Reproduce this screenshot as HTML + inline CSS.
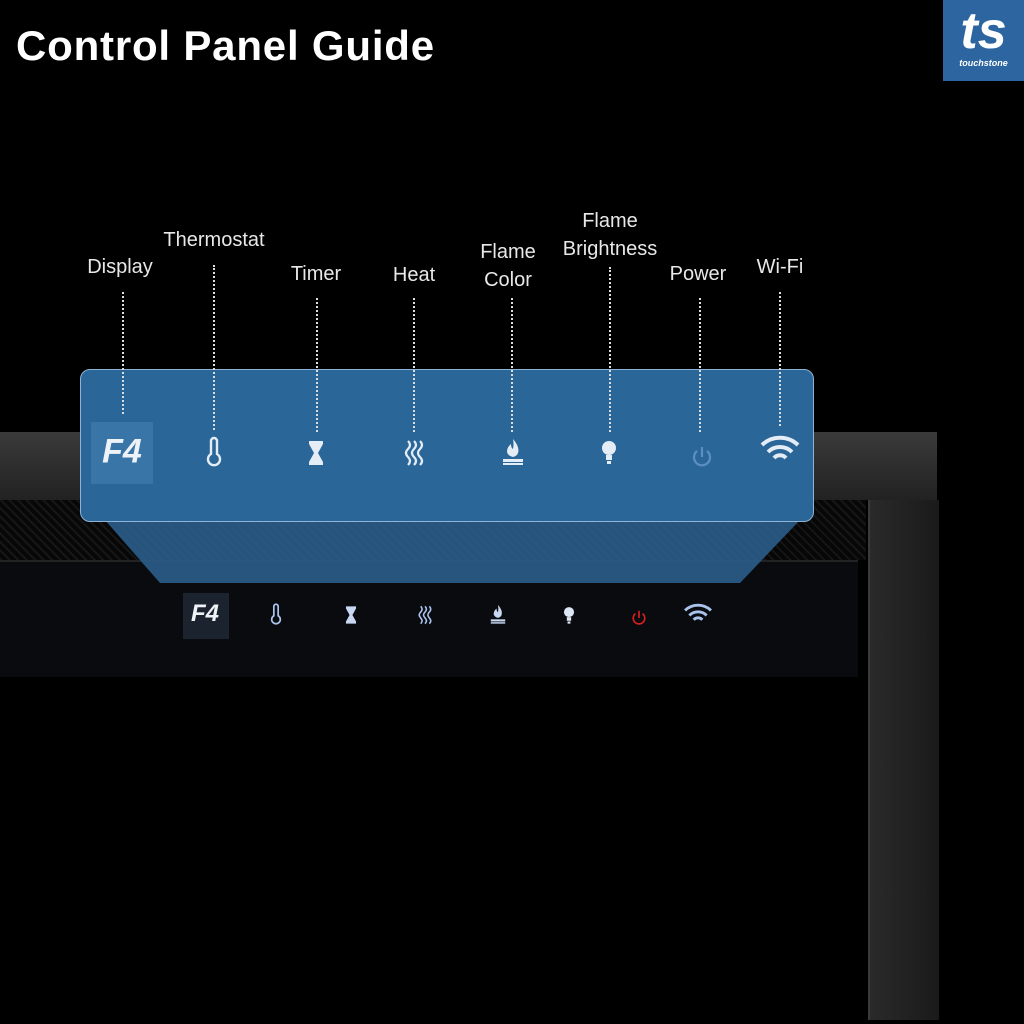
<!DOCTYPE html><html><head><style>
body{margin:0;width:1024px;height:1024px;background:#000;position:relative;overflow:hidden;font-family:"Liberation Sans",sans-serif}
.a{position:absolute}
.lbl{position:absolute;color:#e8e8e8;font-size:20px;text-align:center;transform:translateX(-50%);line-height:28px;white-space:nowrap}
.dl{position:absolute;width:0;border-left:2px dotted #ddd}
.f4{position:absolute;transform:translate(-50%,-50%);color:#eef3f8;font-weight:bold;font-style:italic}
</style></head><body>
<div class="a" style="left:16px;top:22px;color:#fff;font-size:42px;font-weight:bold;letter-spacing:0.8px">Control Panel Guide</div>
<div class="a" style="left:943px;top:0;width:81px;height:81px;background:#2c65a0;color:#fff;text-align:center">
<div style="font-size:52px;font-weight:bold;font-style:italic;line-height:58px;margin-top:2px">ts</div>
<div style="font-size:9px;font-style:italic;font-weight:bold;margin-top:-2px">touchstone</div></div>
<div class="a" style="left:0;top:432px;width:937px;height:68px;background:linear-gradient(#3a3a3a,#222)"></div>
<div class="a" style="left:868px;top:500px;width:69px;height:520px;background:linear-gradient(90deg,#2a2a2a,#1a1a1a);border-left:2px solid #3a3a3a"></div>
<div class="a" style="left:0;top:500px;width:866px;height:60px;background:repeating-linear-gradient(45deg,#161616 0 2px,#070707 2px 6px)"></div>
<div class="a" style="left:0;top:560px;width:858px;height:115px;background:#0a0b0e;border-top:2px solid #222"></div>
<svg class="a" style="left:0;top:0" width="1024" height="1024"><polygon points="105,520 800,520 740,583 160,583" fill="#2a5d8a" opacity="0.9"/></svg>
<div class="a" style="left:80px;top:369px;width:732px;height:151px;background:#2b6699;border:1px solid #8fb3d4;border-radius:10px"></div>
<div class="a" style="left:91px;top:422px;width:62px;height:62px;background:#3a75a8"></div>
<div class="lbl" style="left:120px;top:253px">Display</div>
<div class="lbl" style="left:214px;top:226px">Thermostat</div>
<div class="lbl" style="left:316px;top:260px">Timer</div>
<div class="lbl" style="left:414px;top:261px">Heat</div>
<div class="lbl" style="left:508px;top:238px">Flame<br>Color</div>
<div class="lbl" style="left:610px;top:207px">Flame<br>Brightness</div>
<div class="lbl" style="left:698px;top:260px">Power</div>
<div class="lbl" style="left:780px;top:253px">Wi-Fi</div>
<div class="dl" style="left:122px;top:292px;height:122px"></div>
<div class="dl" style="left:213px;top:265px;height:165px"></div>
<div class="dl" style="left:316px;top:298px;height:134px"></div>
<div class="dl" style="left:413px;top:298px;height:134px"></div>
<div class="dl" style="left:511px;top:298px;height:134px"></div>
<div class="dl" style="left:609px;top:267px;height:165px"></div>
<div class="dl" style="left:699px;top:298px;height:134px"></div>
<div class="dl" style="left:779px;top:292px;height:134px"></div>
<div class="f4" style="left:122px;top:452px;font-size:34px">F4</div>
<div class="a" style="left:183px;top:593px;width:46px;height:46px;background:#1a232e"></div>
<div class="f4" style="left:205px;top:614px;font-size:24px">F4</div>
<svg class="a" style="left:0;top:0" width="1024" height="1024">
<defs>
<g id="th"><path d="M-3,-12 a3,3 0 0 1 6,0 v13 a6,6 0 1 1 -6,0 z" fill="none" stroke-width="2.4"/></g>
<g id="hg"><path d="M-7,-12 h14 v3 l-5,9 l5,9 v3 h-14 v-3 l5,-9 l-5,-9 z" stroke="none"/></g>
<g id="ht" fill="none" stroke-width="2.2"><path d="M-6,-12 q4,4 0,8 q-4,4 0,8 q4,4 0,8 M0,-12 q4,4 0,8 q-4,4 0,8 q4,4 0,8 M6,-12 q4,4 0,8 q-4,4 0,8 q4,4 0,8"/></g>
<g id="fl"><path d="M0,-14 q7,8 5,14 q-1,3 -5,4 q-5,-1 -6,-5 q0,-5 4,-8 q0,4 2,5 q1,-5 0,-10 z" stroke="none"/><rect x="-10" y="6" width="20" height="3" stroke="none"/><rect x="-10" y="10" width="20" height="2" stroke="none"/></g>
<g id="bl"><circle cx="0" cy="-4" r="7" stroke="none"/><rect x="-3" y="3" width="6" height="5" stroke="none"/><rect x="-2" y="9" width="4" height="3" stroke="none"/></g>
<g id="pw" fill="none" stroke-width="2.2"><path d="M-5,-6 a8,8 0 1 0 10,0"/><line x1="0" y1="-10" x2="0" y2="0"/></g>
<g id="wf" fill="none" stroke-width="4"><path d="M-18,-5 a26,26 0 0 1 36,0 M-12,2 a17,17 0 0 1 24,0 M-6,8 a8,8 0 0 1 12,0"/><circle cx="0" cy="14" r="3" stroke="none"/></g>
</defs>
<g fill="#e4ecf5" stroke="#e4ecf5">
<use href="#th" x="214" y="453"/>
<use href="#hg" x="316" y="453" transform="translate(0,0)"/>
<use href="#ht" x="414" y="453"/>
<use href="#fl" x="513" y="453"/>
<use href="#bl" x="609" y="452"/>
<use href="#wf" x="780" y="450"/>
</g>
<g fill="#5d8fbf" stroke="#5d8fbf"><use href="#pw" x="702" y="457"/></g>
<g transform="translate(276,615) scale(0.72)" fill="#a9c3ee" stroke="#a9c3ee"><use href="#th"/></g>
<g transform="translate(351,615) scale(0.72)" fill="#c8d8f2" stroke="#c8d8f2"><use href="#hg"/></g>
<g transform="translate(425,615) scale(0.72)" fill="#a9c3ee" stroke="#a9c3ee"><use href="#ht"/></g>
<g transform="translate(498,615) scale(0.72)" fill="#c8d8f2" stroke="#c8d8f2"><use href="#fl"/></g>
<g transform="translate(569,615) scale(0.72)" fill="#dde6f5" stroke="#dde6f5"><use href="#bl"/></g>
<g transform="translate(639,618) scale(0.72)" fill="#e02020" stroke="#e02020"><use href="#pw"/></g>
<g transform="translate(698,614) scale(0.72)" fill="#a9c3ee" stroke="#a9c3ee"><use href="#wf"/></g>
</svg>
</body></html>
